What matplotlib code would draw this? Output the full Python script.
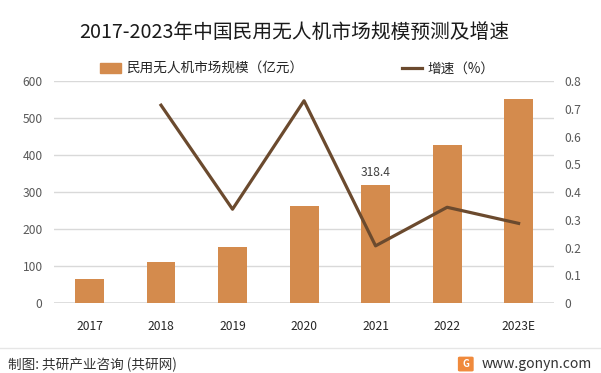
import matplotlib
matplotlib.use('Agg')
import matplotlib.pyplot as plt
import numpy as np
from matplotlib.patches import FancyBboxPatch
from matplotlib.lines import Line2D

plt.rcParams['font.family'] = ['Noto Sans CJK SC', 'DejaVu Sans']

# data
years = ['2017', '2018', '2019', '2020', '2021', '2022', '2023E']
scale = [65, 111, 151, 262, 318.4, 427, 551]          # 亿元
growth_years = years[1:]
growth = [0.713, 0.338, 0.729, 0.206, 0.345, 0.287]    # 增速

bar_color = '#d48b4d'
line_color = '#6b4a2e'
grid_color = '#d9d9d9'
tick_color = '#595959'

fig = plt.figure(figsize=(6.01, 3.73), dpi=100)
ax = fig.add_axes([0.0894, 0.1877, 0.833, 0.595])
ax2 = ax.twinx()

x = np.arange(len(years))
ax.bar(x, scale, width=0.405, color=bar_color, zorder=2)
ax.set_xlim(-0.5, len(years) - 0.5)
ax.set_ylim(0, 600)
ax.set_yticks(range(0, 601, 100))
ax.yaxis.grid(True, color=grid_color, linewidth=1)
ax.set_axisbelow(True)
ax.set_xticks(x)
ax.set_xticklabels(years)

# data label on 2021
i21 = years.index('2021')
ax.text(x[i21], scale[i21] + 18, f'{scale[i21]}', ha='center', va='bottom',
        fontsize=8.7, color='#404040')

gx = [years.index(y) for y in growth_years]
ax2.plot(gx, growth, color=line_color, linewidth=2.3, zorder=3)
ax2.set_ylim(0, 0.8)
ax2.set_yticks(np.arange(0, 0.81, 0.1))
ax2.set_yticklabels(['0'] + [f'{v:.1f}' for v in np.arange(0.1, 0.81, 0.1)])

for a in (ax, ax2):
    for s in a.spines.values():
        s.set_visible(False)
    a.tick_params(length=0, labelsize=8.7, colors=tick_color)
ax.tick_params(axis='x', pad=12, colors='#262626')
ax.tick_params(axis='y', pad=8)
ax2.tick_params(axis='y', pad=7.5)
ax.axhline(0, color=grid_color, linewidth=1.2, zorder=1)

fig.text(0.49, 0.912, '2017-2023年中国民用无人机市场规模预测及增速', ha='center', va='center',
         fontsize=14.2, color='#1a1a1a')

# legend
handles = [plt.Rectangle((0, 0), 1, 1, color=bar_color),
           Line2D([0], [0], color=line_color, linewidth=2.3)]
fig.legend(handles, ['民用无人机市场规模（亿元）', '增速（%）'], loc='center',
           bbox_to_anchor=(0.495, 0.815), ncol=2, frameon=False, fontsize=9.8,
           handlelength=1.5, handletextpad=0.4, columnspacing=7.25,
           labelcolor='#262626')

# footer
fig.add_artist(Line2D([0, 1], [0.067, 0.067], color='#e6e6e6', linewidth=1,
                      transform=fig.transFigure))
fig.text(0.013, 0.022, '制图: 共研产业咨询 (共研网)', ha='left', va='center',
         fontsize=9.8, color='#333333')
fig.text(0.985, 0.024, 'www.gonyn.com', ha='right', va='center',
         fontsize=10, color='#333333')
logo = FancyBboxPatch((0.765, 0.008), 0.02, 0.032, boxstyle='round,pad=0.002',
                      transform=fig.transFigure, color='#f08a3c')
fig.add_artist(logo)
fig.text(0.775, 0.024, 'G', ha='center', va='center', fontsize=7,
         color='white', fontweight='bold')

fig.savefig('out.png', dpi=100)
